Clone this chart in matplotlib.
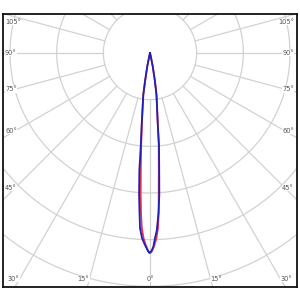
import numpy as np
import matplotlib
matplotlib.use("Agg")
import matplotlib.pyplot as plt

# luminous intensity, in ring units (one ring = one step), angle from nadir in degrees
blue_angles = [-30, -14, -11.5, -10, -9.1, -6.6, -5.7, -5.2, -4.4, -3.75, -3.27, -2.48, -1.49, -0.58, -0.2,
               0.43, 0.97, 1.55, 2.2, 3.04, 3.75, 4.5, 5.6, 6.2, 8.8, 10, 11.5, 14, 30]
blue_values = [0.0, 0.05, 0.30, 0.60, 0.911, 1.553, 1.982, 2.518, 3.051, 3.435, 3.756, 3.968, 4.116, 4.243, 4.285,
               4.243, 4.157, 3.966, 3.80, 3.433, 3.049, 2.516, 1.980, 1.551, 0.911, 0.60, 0.30, 0.05, 0.0]

red_angles = [-30, -14, -11.5, -10, -9.1, -6.5, -5.46, -4.5, -3.75, -3.22, -2.68, -2.01, -1.28, -0.52, 0.09,
              0.58, 1.34, 2.01, 2.62, 3.11, 3.5, 4.3, 5.4, 6.2, 8.8, 10, 11.5, 14, 30]
red_values = [0.0, 0.05, 0.30, 0.60, 0.911, 1.551, 1.980, 2.515, 3.049, 3.434, 3.754, 3.966, 4.115, 4.243, 4.286,
              4.243, 4.115, 3.966, 3.754, 3.434, 3.049, 2.514, 1.980, 1.551, 0.911, 0.60, 0.30, 0.05, 0.0]

rings = [1, 2, 3, 4, 5, 6]
side_labels = [45, 60, 75, 90, 105]
bottom_labels = [0, 15, 30]

grid_col = "#d2d2d2"
text_col = "#555555"


def to_xy(angles, values):
    a = np.radians(np.array(angles))
    v = np.array(values)
    return v * np.sin(a), -v * np.cos(a)


fig = plt.figure(figsize=(3, 3), dpi=100)
ax = fig.add_axes([3 / 300, 13 / 300, 294 / 300, 273 / 300])
ax.set_xlim(-3.15, 3.15)
ax.set_ylim(-5.014, 0.836)
ax.set_xticks([])
ax.set_yticks([])
for s in ax.spines.values():
    s.set_linewidth(1.3)
    s.set_color("#111111")

# rings
t = np.linspace(0, 2 * np.pi, 400)
for r in rings:
    ax.plot(r * np.cos(t), r * np.sin(t), color=grid_col, lw=0.9, zorder=1)

# radial lines every 15 degrees, starting at the first ring
for a in range(0, 360, 15):
    ar = np.radians(a)
    ax.plot([np.sin(ar) * rings[0], np.sin(ar) * 10], [-np.cos(ar) * rings[0], -np.cos(ar) * 10],
            color=grid_col, lw=0.9, zorder=1)

ax.plot(*to_xy(red_angles, red_values), color="#e8334a", lw=1.3, zorder=3, solid_joinstyle="round")
ax.plot(*to_xy(blue_angles, blue_values), color="#2020b8", lw=1.3, zorder=4, solid_joinstyle="round")

box = dict(facecolor="white", edgecolor="none", pad=0.3)
fs = 4.8

# angle labels on the sides
for a in side_labels:
    ar = np.radians(a)
    y = min(-2.893 * np.cos(ar) / np.sin(ar), 0.664)
    ax.text(-3.107, y, f"{a}°", ha="left", va="center", fontsize=fs, color=text_col, bbox=box, zorder=5)
    ax.text(3.086, y, f"{a}°", ha="right", va="center", fontsize=fs, color=text_col, bbox=box, zorder=5)

# angle labels at the bottom
yb = -4.843
for a in bottom_labels:
    ar = np.radians(a)
    x = -yb * np.tan(ar)
    if a == 0:
        ax.text(0, yb, "0°", ha="center", va="center", fontsize=fs, color=text_col, bbox=box, zorder=5)
    else:
        ax.text(-x, yb, f"{a}°", ha="right", va="center", fontsize=fs, color=text_col, bbox=box, zorder=5)
        ax.text(x, yb, f"{a}°", ha="left", va="center", fontsize=fs, color=text_col, bbox=box, zorder=5)

fig.savefig("out.png", dpi=100)
